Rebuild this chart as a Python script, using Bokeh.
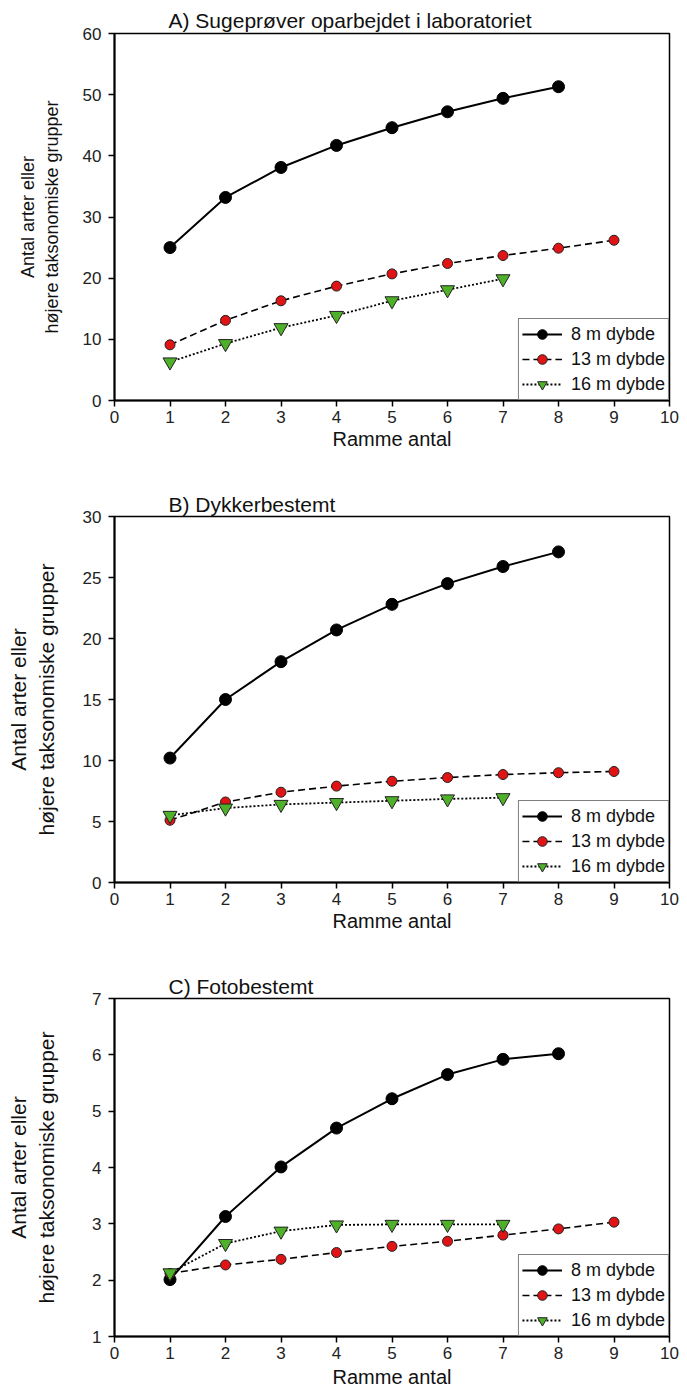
from bokeh.plotting import figure
from bokeh.layouts import column
from bokeh.models import Title, Legend, LegendItem, FixedTicker, Range1d
from bokeh.embed import file_html
from bokeh.resources import INLINE

# ---------------- data ----------------
frames_8 = [1, 2, 3, 4, 5, 6, 7, 8]
frames_13 = [1, 2, 3, 4, 5, 6, 7, 8, 9]
frames_16 = [1, 2, 3, 4, 5, 6, 7]
series_labels = ["8 m dybde", "13 m dybde", "16 m dybde"]
x_ticks = [0, 1, 2, 3, 4, 5, 6, 7, 8, 9, 10]

titles = ["A)  Sugeprøver oparbejdet i laboratoriet", "B) Dykkerbestemt", "C) Fotobestemt"]

a_8m = [25.0, 33.2, 38.1, 41.7, 44.6, 47.2, 49.4, 51.3]
a_13m = [9.1, 13.1, 16.3, 18.7, 20.7, 22.4, 23.7, 24.9, 26.2]
a_16m = [6.3, 9.3, 11.9, 13.9, 16.3, 18.1, 19.9]
a_yticks = [0, 10, 20, 30, 40, 50, 60]

b_8m = [10.2, 15.0, 18.1, 20.7, 22.8, 24.5, 25.9, 27.1]
b_13m = [5.1, 6.6, 7.4, 7.9, 8.3, 8.6, 8.85, 9.0, 9.1]
b_16m = [5.5, 6.1, 6.4, 6.55, 6.7, 6.85, 6.95]
b_yticks = [0, 5, 10, 15, 20, 25, 30]

c_8m = [2.01, 3.13, 4.01, 4.70, 5.22, 5.65, 5.92, 6.02]
c_13m = [2.12, 2.27, 2.37, 2.49, 2.60, 2.69, 2.80, 2.91, 3.03]
c_16m = [2.13, 2.65, 2.87, 2.98, 2.99, 2.99, 2.99]
c_yticks = [1, 2, 3, 4, 5, 6, 7]

y_label = "Antal arter eller\nhøjere taksonomiske grupper"
x_label = "Ramme antal"

FONT = "Liberation Sans"
RED = "#e01414"
GREEN = "#4fb02a"


def make_panel(title, y8, y13, y16, yticks, height, top, bottom, left, right,
               ylab_size, ylab_standoff, xlab_standoff, title_standoff):
    p = figure(width=687, height=height, output_backend="svg", toolbar_location=None,
               x_range=Range1d(x_ticks[0], x_ticks[-1]),
               y_range=Range1d(yticks[0], yticks[-1]),
               min_border_top=top, min_border_bottom=bottom,
               min_border_left=left, min_border_right=right)
    p.title = Title(text=title, align="left", offset=54, standoff=title_standoff,
                    vertical_align="bottom", text_font=FONT, text_font_size="21px",
                    text_font_style="normal", text_color="#111111")
    p.grid.visible = False
    p.outline_line_color = "black"
    p.outline_line_width = 1.5
    p.outline_line_alpha = 1
    p.background_fill_color = "white"
    p.border_fill_color = "white"

    for ax in (p.xaxis[0], p.yaxis[0]):
        ax.axis_line_width = 2
        ax.axis_line_color = "black"
        ax.major_tick_line_color = "black"
        ax.major_tick_line_width = 1.5
        ax.major_tick_out = 6
        ax.major_tick_in = 0
        ax.minor_tick_line_color = None
        ax.major_label_text_font = FONT
        ax.major_label_text_font_size = "17px"
        ax.major_label_text_color = "#222222"
        ax.axis_label_text_font = FONT
        ax.axis_label_text_font_style = "normal"
        ax.axis_label_text_color = "#111111"

    p.xaxis.ticker = FixedTicker(ticks=x_ticks)
    p.yaxis.ticker = FixedTicker(ticks=yticks)
    p.xaxis.major_label_standoff = 4
    p.yaxis.major_label_standoff = 7
    p.xaxis.axis_label = x_label
    p.xaxis.axis_label_text_font_size = "20px"
    p.xaxis.axis_label_standoff = xlab_standoff
    p.yaxis.axis_label = y_label
    p.yaxis.axis_label_text_font_size = ylab_size
    p.yaxis.axis_label_standoff = ylab_standoff

    l8 = p.line(frames_8, y8, line_color="black", line_width=2)
    s8 = p.scatter(frames_8, y8, marker="circle", size=12, fill_color="black",
                   line_color="black", line_width=1)
    l13 = p.line(frames_13, y13, line_color="black", line_width=1.6, line_dash="7 4")
    s13 = p.scatter(frames_13, y13, marker="circle", size=10, fill_color=RED,
                    line_color="#222222", line_width=1)
    l16 = p.line(frames_16, y16, line_color="black", line_width=1.8, line_dash="2 2")
    s16 = p.scatter(frames_16, y16, marker="inverted_triangle", size=14, fill_color=GREEN,
                    line_color="#222222", line_width=1)

    legend = Legend(items=[
        LegendItem(label=series_labels[0], renderers=[l8, s8]),
        LegendItem(label=series_labels[1], renderers=[l13, s13]),
        LegendItem(label=series_labels[2], renderers=[l16, s16]),
    ], location="bottom_right", margin=0, padding=3, spacing=1,
        glyph_width=40, glyph_height=24, label_height=24, label_standoff=9,
        label_text_font=FONT, label_text_font_size="18px", label_text_color="#111111",
        border_line_color="black", border_line_width=1.2,
        background_fill_color="white", background_fill_alpha=1)
    p.add_layout(legend)
    return p


pa = make_panel(titles[0], a_8m, a_13m, a_16m, a_yticks, 460, 33, 60, 114, 15, "18px", 18, 2, 3)
pb = make_panel(titles[1], b_8m, b_13m, b_16m, b_yticks, 478, 56, 56, 113, 18, "21px", 22, 2, 2)
pc = make_panel(titles[2], c_8m, c_13m, c_16m, c_yticks, 454, 60, 56, 113, 18, "21px", 31, 4, 2)

layout = column(pa, pb, pc, spacing=0)
open("out.html", "w").write(file_html(layout, INLINE))
